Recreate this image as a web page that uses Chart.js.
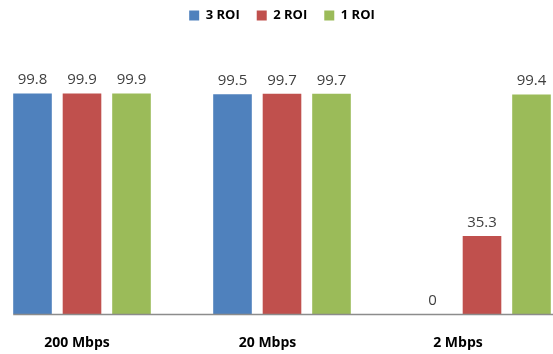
<!DOCTYPE html>
<html>
<head>
<meta charset="utf-8">
<script src="https://cdn.jsdelivr.net/npm/chart.js@4.4.1/dist/chart.umd.min.js"></script>
<style>
  html, body { margin: 0; padding: 0; background: #fff; overflow: hidden; }
  #wrap { position: absolute; left: -18px; top: 0; width: 600px; height: 354px; }
</style>
</head>
<body>
<div id="wrap"><canvas id="c" width="600" height="354"></canvas></div>
<script>
const categories = ['200 Mbps', '20 Mbps', '2 Mbps'];
const seriesNames = ['3 ROI', '2 ROI', '1 ROI'];
const roi3 = [99.8, 99.5, 0];
const roi2 = [99.9, 99.7, 35.3];
const roi1 = [99.9, 99.7, 99.4];
const colors = ['#4F81BD', '#C0504D', '#9BBB59'];

// Value labels above the bars, plus the baseline starting at the first bar
const valueLabels = {
  id: 'valueLabels',
  beforeLayout(chart) {
    const lg = chart.legend;
    if (lg && !lg._tallFit) {
      const fit = lg.fit;
      lg.fit = function () { fit.call(this); this.height = 57; };
      lg._tallFit = true;
    }
  },
  afterDatasetsDraw(chart) {
    const ctx = chart.ctx;
    const area = chart.chartArea;
    const first = chart.getDatasetMeta(0).data[0];
    ctx.save();
    ctx.strokeStyle = '#8c8c8c';
    ctx.lineWidth = 1.5;
    ctx.beginPath();
    ctx.moveTo(first.x - first.width / 2, area.bottom + 0.5);
    ctx.lineTo(area.right, area.bottom + 0.5);
    ctx.stroke();

    ctx.font = '15px "Open Sans", sans-serif';
    ctx.fillStyle = '#404040';
    ctx.textAlign = 'center';
    ctx.textBaseline = 'bottom';
    chart.data.datasets.forEach((ds, i) => {
      chart.getDatasetMeta(i).data.forEach((bar, j) => {
        ctx.fillText(String(ds.data[j]), bar.x, bar.y - 6);
      });
    });
    ctx.restore();
  }
};

const labelMin = -0.4987;
const labelMax = 2.651;

new Chart(document.getElementById('c'), {
  type: 'bar',
  data: {
    labels: categories,
    datasets: [roi3, roi2, roi1].map((d, i) => ({
      label: seriesNames[i],
      data: d,
      backgroundColor: colors[i],
      categoryPercentage: 0.7425,
      barPercentage: 0.78
    }))
  },
  options: {
    responsive: false,
    animation: false,
    layout: { padding: { top: -8, left: 0, right: 0, bottom: 0 } },
    plugins: {
      legend: {
        position: 'top',
        labels: {
          boxWidth: 10,
          boxHeight: 10,
          padding: 17,
          color: '#000',
          font: { family: '"Open Sans", sans-serif', size: 13, weight: 'bold' }
        }
      },
      tooltip: { enabled: false }
    },
    scales: {
      x: {
        grid: { display: false, drawTicks: false },
        border: { display: false },
        ticks: { display: false },
        afterFit(scale) { scale.height = 0; }
      },
      // category names sit on their own axis, slightly left of each bar group
      xl: {
        type: 'linear',
        position: 'bottom',
        offset: false,
        bounds: 'data',
        min: labelMin,
        max: labelMax,
        grid: { display: false, drawTicks: false, offset: false },
        border: { display: false },
        afterBuildTicks(axis) {
          axis.ticks = categories.map((_, k) => ({ value: k }));
          axis.min = labelMin;
          axis.max = labelMax;
        },
        afterFit(scale) { scale.height = 40; },
        ticks: {
          padding: 21,
          color: '#000',
          autoSkip: false,
          maxRotation: 0,
          callback: (v) => categories[v],
          font: { family: '"Open Sans", sans-serif', size: 14, weight: 'bold' }
        }
      },
      y: {
        display: false,
        min: 0,
        max: 120
      }
    }
  },
  plugins: [valueLabels]
});
</script>
</body>
</html>
